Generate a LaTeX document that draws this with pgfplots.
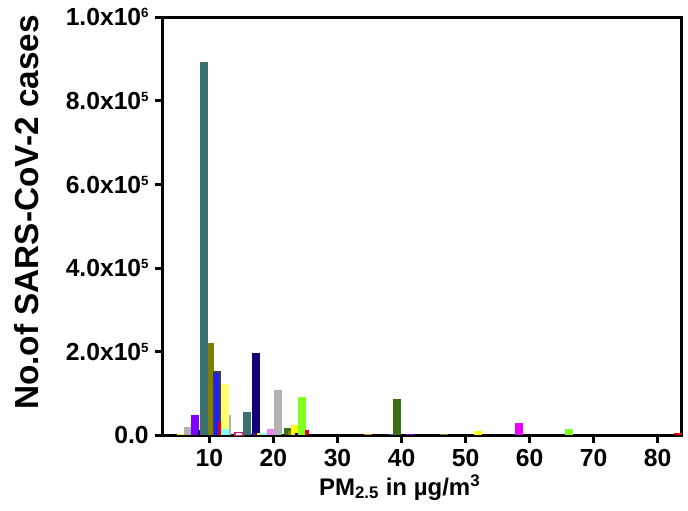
\documentclass[border=0pt]{standalone}
\usepackage{pgfplots}
\pgfplotsset{compat=1.18}
\usepackage{fontspec}
\setmainfont{Liberation Sans}
\definecolor{cteal}{RGB}{60,112,112}
\definecolor{colive}{RGB}{128,128,0}
\definecolor{cdark}{RGB}{64,64,64}
\definecolor{cblue}{RGB}{30,30,255}
\definecolor{clyellow}{RGB}{255,255,112}
\definecolor{cpurple}{RGB}{128,0,255}
\definecolor{cgray}{RGB}{178,178,178}
\definecolor{cnavy}{RGB}{20,0,120}
\definecolor{clime}{RGB}{128,255,32}
\definecolor{cdgreen}{RGB}{60,110,20}
\definecolor{cmag}{RGB}{235,0,255}
\definecolor{ccyan}{RGB}{128,255,255}
\definecolor{cred}{RGB}{220,0,0}
\definecolor{cviolet}{RGB}{238,130,238}
\definecolor{cyellow}{RGB}{255,255,0}
\definecolor{corange}{RGB}{230,120,0}
\definecolor{ccrimson}{RGB}{220,20,100}
\newcommand{\sps}[1]{\raisebox{0.6ex}{\fontsize{10}{12}\selectfont #1}}
\begin{document}
\begin{tikzpicture}
\useasboundingbox (-122pt,-56pt) rectangle (394pt,326.5pt);
\begin{axis}[
  at={(0,0)}, anchor=south west,
  scale only axis, width=389pt, height=313.5pt,
  xmin=2.7, xmax=83.7, ymin=0, ymax=1000000,
  axis line style={line width=2.2pt},
  every tick/.style={black, line width=2.2pt},
  tick align=outside, major tick length=6pt,
  xtick pos=left, ytick pos=left,
  xtick={10,20,30,40,50,60,70,80},
  xticklabels={10,20,30,40,50,60,70,80},
  ytick={0,200000,400000,600000,800000,1000000},
  yticklabels={0.0,2.0x10\sps{5},4.0x10\sps{5},6.0x10\sps{5},8.0x10\sps{5},1.0x10\sps{6}},
  scaled y ticks=false,
  ticklabel style={font=\fontsize{18.5}{21}\selectfont\bfseries},
  yticklabel style={xshift=-1pt},
  xticklabel style={yshift=-1pt},
  xlabel={PM\textsubscript{2.5} in µg/m\textsuperscript{3}},
  xlabel style={font=\fontsize{18}{21}\selectfont\bfseries, at={(axis description cs:0.457,-0.125)}, anchor=center},
  ylabel={No.of SARS-CoV-2 cases},
  ylabel style={font=\fontsize{25}{29}\selectfont\bfseries, at={(axis description cs:-0.262,0.533)}, anchor=center, rotate=0},
  clip=false,
  every axis plot/.append style={ybar, bar width=1.25, bar shift=0pt, draw=none},
]
% cluster near 5-14
\addplot[fill=cyellow] coordinates {(5.5,3000)};
\addplot[fill=cgray] coordinates {(6.7,20000)};
\addplot[fill=cpurple] coordinates {(7.7,48000)};
\addplot[fill=cnavy] coordinates {(8.8,12000)};
\addplot[fill=colive] coordinates {(10.1,222000)};
\addplot[fill=cteal] coordinates {(9.1,892000)};
\addplot[fill=cdark] coordinates {(11.2,155000)};
\addplot[fill=cblue, bar width=0.9] coordinates {(11.1,148000)};
\addplot[fill=cred, bar width=0.5] coordinates {(11.6,31000)};
\addplot[fill=cgray] coordinates {(12.7,48000)};
\addplot[fill=clyellow] coordinates {(12.4,124000)};
\addplot[fill=ccyan] coordinates {(12.4,15000)};
\addplot[fill=white, draw=ccrimson, line width=1pt] coordinates {(14.6,6000)};
% 15-26
\addplot[fill=cteal] coordinates {(15.9,55000)};
\addplot[fill=cnavy] coordinates {(17.3,196000)};
\addplot[fill=cpurple] coordinates {(17.3,4000)};
\addplot[fill=cyellow] coordinates {(18.0,6000)};
\addplot[fill=ccyan] coordinates {(18.6,5000)};
\addplot[fill=cviolet] coordinates {(19.6,14000)};
\addplot[fill=cgray] coordinates {(20.7,108000)};
\addplot[fill=cdgreen] coordinates {(22.2,18000)};
\addplot[fill=colive] coordinates {(22.9,10000)};
\addplot[fill=cyellow] coordinates {(23.4,25000)};
\addplot[fill=cnavy] coordinates {(24.0,6000)};
\addplot[fill=clime] coordinates {(24.5,91000)};
\addplot[fill=cred, bar width=0.6] coordinates {(25.3,12000)};
% further
\addplot[fill=corange] coordinates {(34.8,2000)};
\addplot[fill=cnavy] coordinates {(38.1,3000)};
\addplot[fill=cdgreen] coordinates {(39.3,86000)};
\addplot[fill=cteal] coordinates {(38.6,4000)};
\addplot[fill=cpurple] coordinates {(41.4,3000)};
\addplot[fill=colive] coordinates {(46.7,2500)};
\addplot[fill=cyellow] coordinates {(51.9,10000)};
\addplot[fill=cmag] coordinates {(58.3,29000)};
\addplot[fill=clime] coordinates {(66.1,15000)};
\addplot[fill=cred] coordinates {(83.2,5000)};
\end{axis}
\end{tikzpicture}
\end{document}
